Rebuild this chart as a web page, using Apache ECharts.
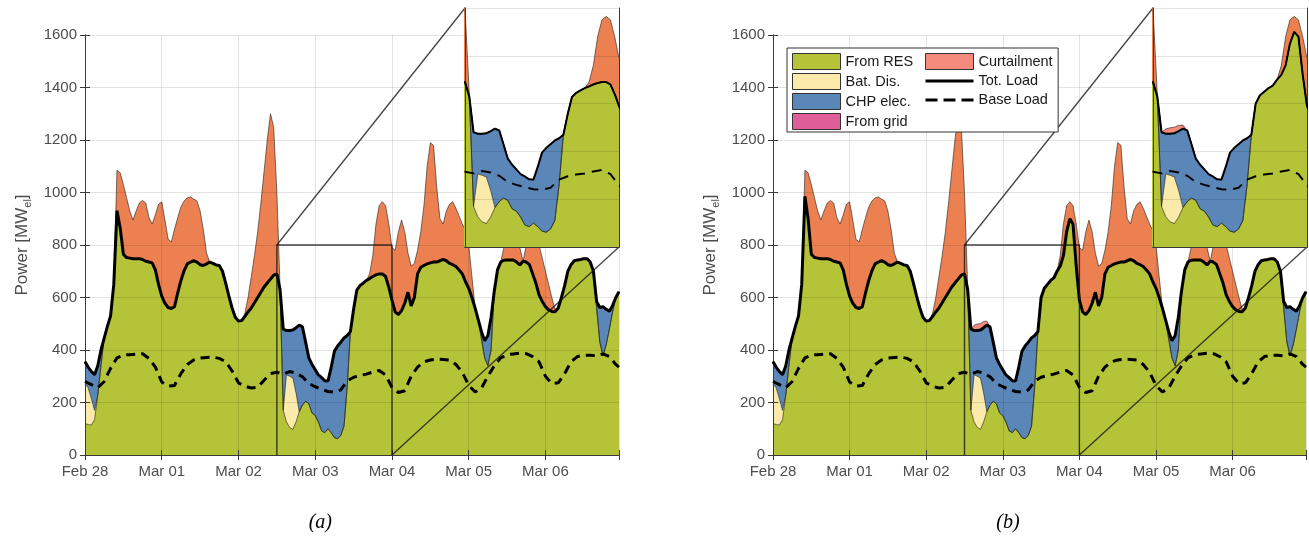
<!DOCTYPE html>
<html>
<head>
<meta charset="utf-8">
<script src="https://cdn.jsdelivr.net/npm/echarts@6/dist/echarts.min.js"></script>
<style>
  html, body { margin: 0; padding: 0; background: #fff; }
  #chart { width: 1309px; height: 545px; }
</style>
</head>
<body>
<div id="chart"></div>
<script>
// Hourly electricity balance, Feb 28 00:00 .. Mar 06 23:00 (index = hour)
const DAY_LABELS = ['Feb 28', 'Mar 01', 'Mar 02', 'Mar 03', 'Mar 04', 'Mar 05', 'Mar 06'];

// Total load, scenario (a)  [MW_el]
const LOAD_A = [
  355, 335, 318, 306, 340, 400, 445, 490, 530, 650, 930, 865,
  765, 752, 750, 748, 748, 748, 745, 738, 735, 732, 705, 650,
  605, 578, 562, 558, 565, 618, 665, 702, 728, 735, 740, 735,
  725, 722, 728, 735, 730, 724, 722, 700, 655, 605, 560, 525,
  510, 512, 528, 545, 560, 580, 600, 620, 640, 655, 670, 685,
  690, 630, 480, 474, 474, 476, 485, 495, 488, 430, 370, 345,
  325, 305, 295, 283, 282, 335, 395, 415, 430, 446, 455, 470,
  555, 628, 645, 655, 665, 672, 680, 686, 690, 690, 680, 640,
  590, 545, 535, 550, 578, 620, 568, 600, 690, 715, 722, 728,
  732, 735, 735, 740, 745, 740, 730, 725, 718, 705, 690, 660,
  635, 600, 560, 515, 470, 435, 455, 525, 625, 705, 735, 742,
  743, 743, 743, 735, 724, 738, 735, 725, 690, 655, 610, 585,
  565, 553, 547, 546, 560, 600, 645, 700, 725, 740, 743, 745,
  748, 748, 735, 700, 585, 562, 565, 555, 548, 570, 600, 622
];

// Renewable output offered to the system, scenario (a): the part above the load is curtailed
const RES_TOP_A = [
  120, 116, 114, 135, 228, 340, 445, 490, 530, 650, 1085, 1075,
  1030, 980, 930, 895, 930, 960, 970, 960, 905, 880, 915, 955,
  965, 895, 822, 812, 860, 905, 945, 968, 980, 983, 975, 968,
  930, 860, 770, 735, 730, 724, 722, 700, 655, 605, 560, 525,
  510, 512, 540, 600, 680, 760, 850, 960, 1080, 1200, 1300, 1250,
  1000, 640, 170, 126, 105, 98, 126, 165, 190, 205, 195, 160,
  150, 125, 92, 85, 100, 85, 66, 62, 75, 110, 260, 470,
  555, 628, 645, 655, 665, 690, 760, 880, 950, 965, 950, 880,
  790, 780, 850, 895, 850, 770, 720, 730, 780, 850, 950, 1100,
  1190, 1180, 1020, 900, 880, 930, 955, 965, 940, 910, 880, 855,
  800, 680, 560, 515, 440, 370, 340, 400, 625, 705, 735, 790,
  840, 860, 850, 810, 790, 738, 800, 850, 880, 850, 800, 750,
  700, 650, 600, 555, 560, 600, 645, 700, 725, 740, 743, 745,
  748, 748, 735, 700, 560, 430, 378, 420, 480, 545, 600, 622
];

// Total load, scenario (b)
const LOAD_B = [
  355, 335, 318, 306, 340, 400, 445, 490, 530, 650, 985, 900,
  765, 752, 750, 748, 748, 748, 745, 738, 735, 732, 705, 650,
  605, 578, 562, 558, 565, 618, 665, 702, 728, 735, 740, 735,
  725, 722, 728, 735, 730, 724, 722, 700, 655, 605, 560, 525,
  510, 512, 528, 545, 560, 580, 600, 620, 640, 655, 670, 685,
  690, 630, 480, 474, 474, 476, 485, 495, 488, 430, 370, 345,
  325, 305, 295, 283, 282, 335, 395, 415, 430, 446, 455, 470,
  600, 635, 650, 665, 675, 700, 720, 760, 850, 900, 880, 720,
  590, 545, 535, 550, 578, 620, 568, 600, 690, 715, 722, 728,
  732, 735, 735, 740, 745, 740, 730, 725, 718, 705, 690, 660,
  635, 600, 560, 515, 470, 435, 455, 525, 625, 705, 735, 742,
  743, 743, 743, 735, 724, 738, 735, 725, 690, 655, 610, 585,
  565, 553, 547, 546, 560, 600, 645, 700, 725, 740, 743, 745,
  748, 748, 735, 700, 585, 562, 565, 555, 548, 570, 600, 622
];

// Renewable output, scenario (b)
const RES_TOP_B = [
  120, 116, 114, 135, 228, 340, 445, 490, 530, 650, 1085, 1075,
  1030, 980, 930, 895, 930, 960, 970, 960, 905, 880, 915, 955,
  965, 895, 822, 812, 860, 905, 945, 968, 980, 983, 975, 968,
  930, 860, 770, 735, 730, 724, 722, 700, 655, 605, 560, 525,
  510, 512, 540, 600, 680, 760, 850, 960, 1080, 1200, 1300, 1250,
  1000, 640, 170, 126, 105, 98, 126, 165, 190, 205, 195, 160,
  150, 125, 92, 85, 100, 85, 66, 62, 75, 110, 260, 470,
  600, 635, 650, 665, 675, 700, 760, 880, 950, 965, 950, 880,
  790, 780, 850, 895, 850, 770, 720, 730, 780, 850, 950, 1100,
  1190, 1180, 1020, 900, 880, 930, 955, 965, 940, 910, 880, 855,
  800, 680, 560, 515, 440, 370, 340, 400, 625, 705, 735, 790,
  840, 860, 850, 810, 790, 738, 800, 850, 880, 850, 800, 750,
  700, 650, 600, 555, 560, 600, 645, 700, 725, 740, 743, 745,
  748, 748, 735, 700, 560, 430, 378, 420, 480, 545, 600, 622
];

// Battery discharge (hour -> MW), same in both scenarios
const BAT_DIS = { 0: 150, 1: 140, 2: 100, 3: 35, 63: 180, 64: 195, 65: 195, 66: 110 };
// Grid import (hour -> MW): none in either scenario
const GRID_A = {};
const GRID_B = {};
// Curtailment while CHP is running (hour -> MW), scenario (b)
const CURT_CHP_A = {};
const CURT_CHP_B = { 63: 20, 64: 25, 65: 25, 66: 24, 67: 15 };

// Base load [hour, MW]
const BASE_LOAD = [
  [0, 280], [2, 268], [4, 256], [6, 280], [8, 330], [10, 370], [12, 381], [14, 382],
  [16, 384], [18, 386], [20, 368], [22, 335], [24, 278], [26, 262], [28, 265], [30, 310],
  [32, 345], [34, 362], [36, 369], [38, 371], [40, 373], [42, 368], [44, 355], [46, 320],
  [48, 275], [50, 262], [52, 255], [54, 258], [56, 285], [58, 310], [60, 315], [62, 308],
  [64, 318], [66, 312], [68, 298], [70, 272], [72, 260], [74, 250], [76, 242], [78, 240],
  [80, 248], [82, 282], [84, 296], [86, 303], [88, 308], [90, 316], [92, 322], [94, 305],
  [96, 258], [98, 238], [100, 245], [102, 300], [104, 335], [106, 355], [108, 362], [110, 365],
  [112, 364], [114, 362], [116, 345], [118, 315], [120, 265], [122, 240], [124, 255], [126, 300],
  [128, 340], [130, 370], [132, 382], [134, 385], [136, 388], [138, 386], [140, 375], [142, 355],
  [144, 300], [146, 272], [148, 275], [150, 310], [152, 355], [154, 375], [156, 380], [158, 380],
  [160, 378], [162, 385], [164, 375], [166, 345], [167, 335]
];

// Zoomed window shown in the inset
const ZOOM = { from: 60, to: 96, top: 800 };
const INSET_TOP = 1000;

const FONT = '"Liberation Sans", Arial, sans-serif';
const COLORS = {
  res: '#B4C337', bat: '#FCEAAA', chp: '#5A86B8', grid: '#DF5E9A',
  curt: '#EC8050', curtKey: '#F48A7C', edge: 'rgba(30,30,30,0.75)', text: '#4D4D4D'
};

// Upper edge of each supply band: RES, +battery, +CHP, +grid (= load), +curtailment
function bands(resTop, load, gridImp, curtChp) {
  const out = { green: [], bat: [], chp: [], grid: [], curt: [], curtChp: [], load: [] };
  for (let h = 0; h < load.length; h++) {
    const used = Math.min(resTop[h], load[h]);
    const b = BAT_DIS[h] || 0;
    const g = gridImp[h] || 0;
    const curt = Math.max(resTop[h] - load[h], 0);
    out.green.push([h, used]);
    out.bat.push([h, used + b]);
    out.chp.push([h, Math.max(load[h] - g, used + b)]);
    out.grid.push([h, load[h]]);
    out.curt.push([h, load[h] + curt]);
    out.curtChp.push([h, load[h] + (curtChp[h] || 0)]);
    out.load.push([h, load[h]]);
  }
  return out;
}
const PANEL_A = bands(RES_TOP_A, LOAD_A, GRID_A, CURT_CHP_A);
const PANEL_B = bands(RES_TOP_B, LOAD_B, GRID_B, CURT_CHP_B);

// grid boxes: main (a), inset (a), main (b), inset (b)
const GRIDS = [
  { left: 85, top: 35, width: 534, height: 420, inset: false },
  { left: 465, top: 8, width: 154, height: 239, inset: true },
  { left: 773, top: 35, width: 534, height: 420, inset: false },
  { left: 1153, top: 8, width: 154, height: 239, inset: true }
];

const grid = [], xAxis = [], yAxis = [], series = [];

GRIDS.forEach((g, gi) => {
  grid.push({
    left: g.left, top: g.top, width: g.width, height: g.height,
    show: g.inset, backgroundColor: '#fff', borderWidth: 0, z: g.inset ? 10 : 0
  });
  const az = g.inset ? 12 : 3;
  const line = { show: true, lineStyle: { color: '#3a3a3a', width: 1 } };
  if (g.inset) {
    xAxis.push({ gridIndex: gi, type: 'value', min: ZOOM.from, max: ZOOM.to, z: az,
      axisLine: line, axisTick: { show: false }, axisLabel: { show: false }, splitLine: { show: false } });
    xAxis.push({ gridIndex: gi, type: 'value', position: 'top', min: ZOOM.from, max: ZOOM.to, z: az,
      axisLine: line, axisTick: { show: false }, axisLabel: { show: false }, splitLine: { show: false } });
    yAxis.push({ gridIndex: gi, type: 'value', min: 0, max: INSET_TOP, interval: 200, z: az,
      axisLine: line, axisTick: { show: false }, axisLabel: { show: false },
      splitLine: { show: true, lineStyle: { color: 'rgba(0,0,0,0.11)', width: 1 } } });
    yAxis.push({ gridIndex: gi, type: 'value', position: 'right', min: 0, max: INSET_TOP, interval: 200, z: az,
      axisLine: line, axisTick: { show: false }, axisLabel: { show: false }, splitLine: { show: false } });
  } else {
    const tick = { show: true, inside: true, length: 5, lineStyle: { color: '#3a3a3a' } };
    xAxis.push({ gridIndex: gi, type: 'value', min: 0, max: 167, interval: 24, z: az,
      axisLine: line, axisTick: tick,
      axisLabel: { fontFamily: FONT, fontSize: 15, color: COLORS.text, margin: 9,
        formatter: v => DAY_LABELS[Math.round(v / 24)] || '' },
      splitLine: { show: true, lineStyle: { color: 'rgba(0,0,0,0.11)', width: 1 } } });
    xAxis.push({ gridIndex: gi, type: 'value', position: 'top', min: 0, max: 167, interval: 24, z: az,
      axisLine: line, axisTick: tick, axisLabel: { show: false }, splitLine: { show: false } });
    yAxis.push({ gridIndex: gi, type: 'value', min: 0, max: 1600, interval: 200, z: az,
      axisLine: line, axisTick: tick,
      axisLabel: { fontFamily: FONT, fontSize: 15, color: COLORS.text, margin: 8, formatter: v => String(v) },
      splitLine: { show: true, lineStyle: { color: 'rgba(0,0,0,0.11)', width: 1 } },
      name: '{n|Power [MW}{s|el}{n|]}', nameLocation: 'middle', nameRotate: 90, nameGap: 52,
      nameTextStyle: { fontFamily: FONT, color: COLORS.text,
        rich: { n: { fontFamily: FONT, fontSize: 17, color: COLORS.text, lineHeight: 22 },
                s: { fontFamily: FONT, fontSize: 11, color: COLORS.text, lineHeight: 11, verticalAlign: 'bottom' } } } });
    yAxis.push({ gridIndex: gi, type: 'value', position: 'right', min: 0, max: 1600, interval: 200, z: az,
      axisLine: line, axisTick: tick, axisLabel: { show: false }, splitLine: { show: false } });
  }
});

function panelSeries(p, gi) {
  const inset = GRIDS[gi].inset;
  const xi = 2 * gi, yi = 2 * gi;
  const zA = inset ? 11 : 2, zL = inset ? 13 : 4;
  const common = { type: 'line', xAxisIndex: xi, yAxisIndex: yi, symbol: 'none', silent: true,
    emphasis: { disabled: true }, animation: false };
  // each band is filled down to the axis; later (lower) bands paint over earlier ones
  const area = (name, data, color) => Object.assign({}, common, {
    name, data, z: zA,
    lineStyle: { width: 0.8, color: COLORS.edge },
    areaStyle: { color, opacity: 1, origin: 'start' }, itemStyle: { color }
  });
  const list = [
    area('Curtailment', p.curt, COLORS.curt),
    area('Curtailment', p.curtChp, COLORS.curtKey),
    area('From grid', p.grid, COLORS.grid),
    area('CHP elec.', p.chp, COLORS.chp),
    area('Bat. Dis.', p.bat, COLORS.bat),
    area('From RES', p.green, COLORS.res),
    Object.assign({}, common, { name: 'Tot. Load', data: p.load, z: zL,
      lineStyle: { width: inset ? 2 : 3, color: '#000' }, itemStyle: { color: '#000' } }),
    Object.assign({}, common, { name: 'Base Load', data: BASE_LOAD, z: zL,
      lineStyle: { width: inset ? 2 : 3, color: '#000', type: inset ? [10, 7] : [9, 6] }, itemStyle: { color: '#000' },
      markLine: inset ? { silent: true, symbol: 'none', animation: false, label: { show: false },
        lineStyle: { color: 'rgba(0,0,0,0.11)', width: 1, type: 'solid' }, data: [{ xAxis: 72 }] } : undefined })
  ];
  if (!inset) {
    // outline of the zoomed window
    list.push(Object.assign({}, common, { name: 'zoom-window', z: 5,
      data: [[ZOOM.from, 0], [ZOOM.from, ZOOM.top], [ZOOM.to, ZOOM.top], [ZOOM.to, 0]],
      lineStyle: { width: 1.4, color: 'rgba(20,20,20,0.8)' } }));
  }
  return list;
}

series.push(...panelSeries(PANEL_A, 0), ...panelSeries(PANEL_A, 1),
            ...panelSeries(PANEL_B, 2), ...panelSeries(PANEL_B, 3));

const rectKey = (name, color) => ({ name, icon: 'rect', itemStyle: { color, borderColor: '#333', borderWidth: 1 } });
const legendText = { fontFamily: FONT, fontSize: 14.5, color: '#1a1a1a', lineHeight: 16 };

const option = {
  animation: false,
  backgroundColor: '#fff',
  grid, xAxis, yAxis, series,
  legend: [
    { left: 787, top: 48, orient: 'vertical', itemWidth: 48, itemHeight: 16, itemGap: 3,
      padding: [5, 145, 2, 5], backgroundColor: '#fff', borderColor: '#333', borderWidth: 1,
      selectedMode: false, z: 20, textStyle: legendText,
      data: [rectKey('From RES', COLORS.res), rectKey('Bat. Dis.', COLORS.bat),
             rectKey('CHP elec.', COLORS.chp), rectKey('From grid', COLORS.grid)] },
    { left: 925, top: 53, orient: 'vertical', itemWidth: 48, itemHeight: 16, itemGap: 3,
      padding: 0, selectedMode: false, z: 21, textStyle: legendText,
      data: [rectKey('Curtailment', COLORS.curtKey),
             { name: 'Tot. Load', icon: 'path://M0,0h48v3h-48z', itemStyle: { color: '#000', borderWidth: 0 } },
             { name: 'Base Load', icon: 'path://M0,0h12v3h-12z M18,0h12v3h-12z M36,0h12v3h-12z',
               itemStyle: { color: '#000', borderWidth: 0 } }] }
  ]
};

const chart = echarts.init(document.getElementById('chart'), null, { renderer: 'canvas' });
chart.setOption(option);

// Connector lines from the zoom window to the inset, plus panel captions
const px = (gi, pt) => chart.convertToPixel({ xAxisIndex: 2 * gi, yAxisIndex: 2 * gi }, pt);
const graphics = [];
[[0, 1], [2, 3]].forEach(([m, s]) => {
  const a1 = px(m, [ZOOM.from, ZOOM.top]), b1 = px(s, [ZOOM.from, INSET_TOP]);
  const a2 = px(m, [ZOOM.to, 0]), b2 = px(s, [ZOOM.to, 0]);
  [[a1, b1], [a2, b2]].forEach(([p, q]) => graphics.push({
    type: 'line', z: 5, silent: true,
    shape: { x1: p[0], y1: p[1], x2: q[0], y2: q[1] },
    style: { stroke: 'rgba(20,20,20,0.8)', lineWidth: 1.3 }
  }));
});
// captions sit below the middle of each main panel
const capA = px(0, [73.6, 0]), capB = px(2, [73.6, 0]);
[['(a)', capA], ['(b)', capB]].forEach(([t, p]) => graphics.push({
  type: 'text', silent: true, x: p[0], y: 523,
  style: { text: t, font: 'italic 20px "Liberation Serif", "Times New Roman", serif',
    fill: '#000', textAlign: 'center', textVerticalAlign: 'middle' }
}));
chart.setOption({ graphic: graphics });
</script>
</body>
</html>
